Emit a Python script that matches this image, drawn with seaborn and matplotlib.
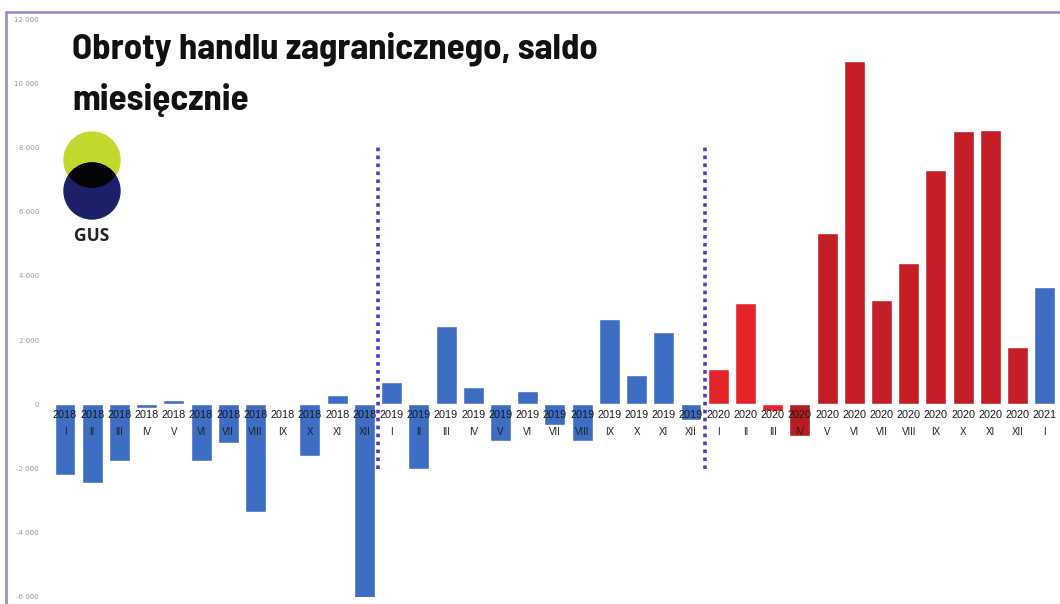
import numpy as np
import pandas as pd
import matplotlib
matplotlib.use("Agg")
import matplotlib.pyplot as plt
from matplotlib.patches import Circle
from matplotlib.lines import Line2D
import seaborn as sns

# dane: saldo miesięczne (mln EUR)
years = ["2018"] * 12 + ["2019"] * 12 + ["2020"] * 12 + ["2021"]
months = ["I", "II", "III", "IV", "V", "VI", "VII", "VIII", "IX", "X", "XI", "XII"] * 3 + ["I"]
saldo = [-2200, -2450, -1750, -100, 150, -1750, -1200, -3350, 50, -1600, 300, -6100,
         700, -2000, 2450, 550, -1150, 400, -650, -1150, 2650, 900, 2250, -500,
         1100, 3150, -200, -1000, 5350, 10700, 3250, 4400, 7300, 8500, 8550, 1800,
         3650]
yticks = [-6000, -4000, -2000, 0, 2000, 4000, 6000, 8000, 10000, 12000]
separators = [11.5, 23.5]
title_lines = ["Obroty handlu zagranicznego, saldo", "miesięcznie"]

blue = "#3d6ec4"
red_light = "#e5232a"
red_dark = "#b81c1f"
red = "#c41f27"
colors = [blue] * 24 + [red_light] * 3 + [red_dark] + [red] * 8 + [blue]

df = pd.DataFrame({"idx": [str(i) for i in range(len(saldo))], "saldo": saldo})

sns.set_style("white")
fig = plt.figure(figsize=(10.6, 6.04), dpi=100)
ax = fig.add_axes([0.0485, 0.0116, 0.950, 0.9569])

sns.barplot(data=df, x="idx", y="saldo", hue="idx", palette=colors, legend=False,
            width=0.77, saturation=1, ax=ax)

ax.set_xlim(-0.5, len(saldo) - 0.5)
ax.set_ylim(-6000, 12000)
ax.set_xticks([])
ax.set_xlabel("")
ax.set_ylabel("")
ax.set_yticks(yticks)
ax.set_yticklabels([f"{v:,}".replace(",", " ") for v in yticks])
ax.tick_params(axis="y", labelsize=5, labelcolor="#9a9a9a", length=3, color="#e6e6f2", pad=6)
for s in ax.spines.values():
    s.set_visible(False)

# etykiety rok / miesiąc przy linii zera
for i, (y, m) in enumerate(zip(years, months)):
    ax.annotate(y, (i, 0), xytext=(0, -7.5), textcoords="offset points",
                ha="center", va="center", fontsize=7.8, color="#1a1a1a",
                family="Liberation Sans")
    ax.annotate(m, (i, 0), xytext=(0, -20), textcoords="offset points",
                ha="center", va="center", fontsize=7, color="#222222",
                family="Liberation Sans")

# przerywane linie między latami
for xs in separators:
    ax.vlines(xs, -2000, 8000, colors="#4a3fc2", linestyles=(0, (1, 1.2)), linewidth=2.6)

# tytuł
for k, (line, base) in enumerate(zip(title_lines, [58, 110])):
    fig.text(0.068, 1 - base / 604, line, ha="left", va="baseline", fontsize=26.5,
             fontweight="bold", family=["Barlow Semi Condensed", "DejaVu Sans"], color="#111111")

# logo GUS
lax = fig.add_axes([40 / 1060, 1 - 250 / 604, 110 / 1060, 125 / 604])
lax.set_xlim(40, 150)
lax.set_ylim(250, 125)
lax.set_aspect("equal")
lax.axis("off")
green = Circle((92, 160), 28, color="#c3d82e")
navy = Circle((92, 191), 28, color="#1b2068")
lax.add_patch(green)
lax.add_patch(navy)
inter = Circle((92, 191), 28, color="#050505")
lax.add_patch(inter)
inter.set_clip_path(green)
lax.text(92, 236, "GUS", ha="center", va="center", fontsize=12.5, fontweight="bold",
         color="#222222", family="Open Sans")

# ramka obrazu
fig.add_artist(Line2D([6 / 1060, 6 / 1060], [1 - 12 / 604, 0], transform=fig.transFigure,
                      color="#9c90d4", linewidth=2))
fig.add_artist(Line2D([6 / 1060, 1], [1 - 12 / 604, 1 - 12 / 604], transform=fig.transFigure,
                      color="#9c90d4", linewidth=2))

fig.savefig("out.png", dpi=100)
